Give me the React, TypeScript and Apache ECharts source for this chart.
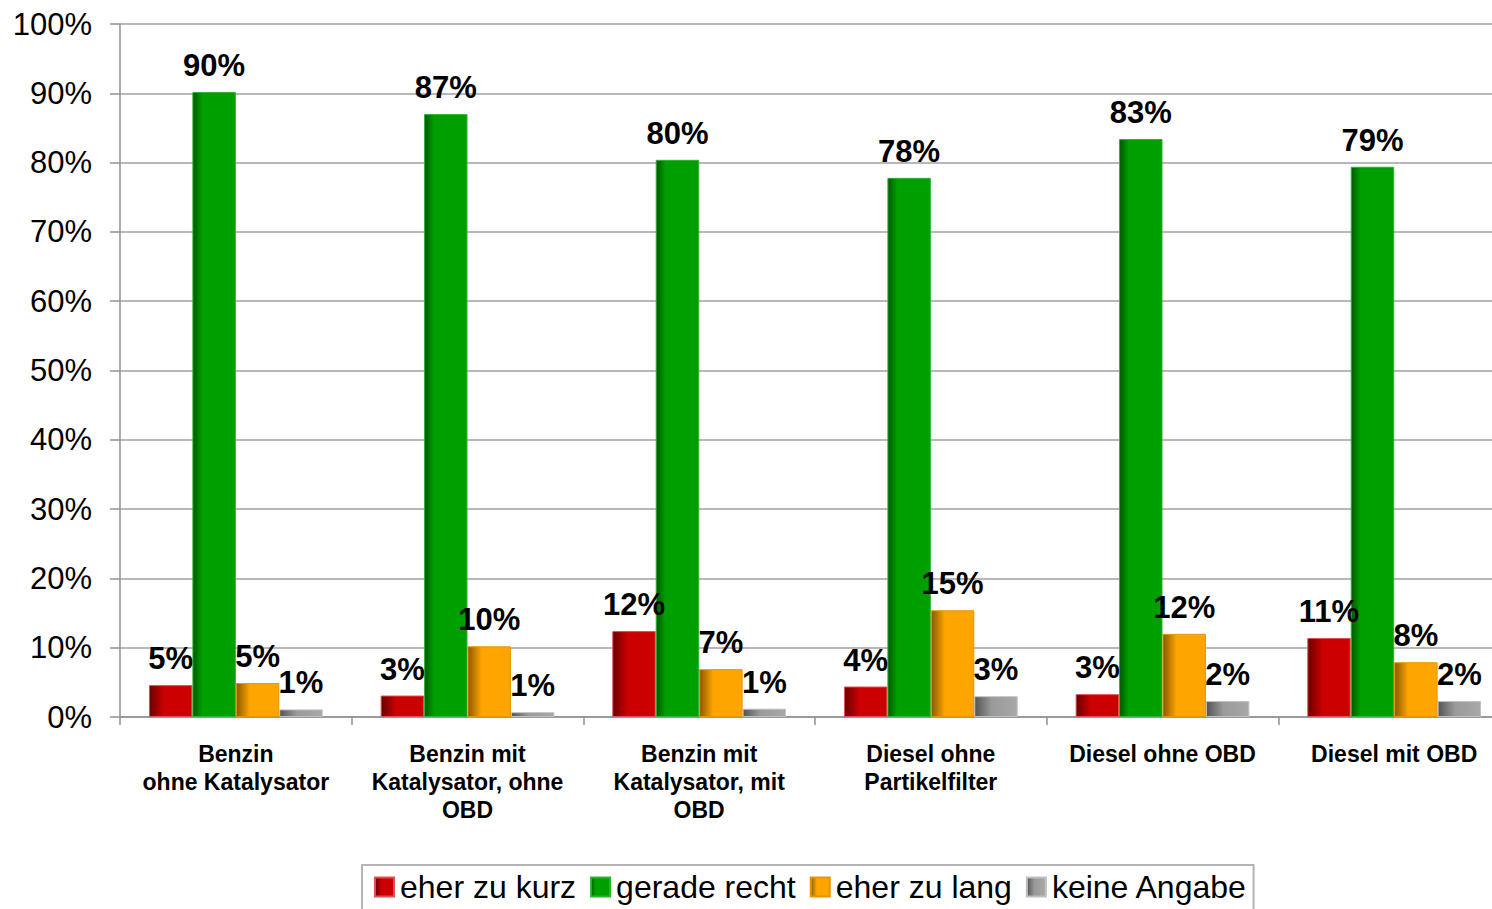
import React, { useEffect, useRef } from "react";
import * as echarts from "echarts";

const categories = [
  "Benzin\nohne Katalysator",
  "Benzin mit\nKatalysator, ohne\nOBD",
  "Benzin mit\nKatalysator, mit\nOBD",
  "Diesel ohne\nPartikelfilter",
  "Diesel ohne OBD",
  "Diesel mit OBD",
];
const seriesNames = ["eher zu kurz", "gerade recht", "eher zu lang", "keine Angabe"];
const eherZuKurz = [4.6, 3.1, 12.4, 4.4, 3.3, 11.4];
const geradeRecht = [90.2, 87.0, 80.4, 77.8, 83.4, 79.4];
const eherZuLang = [4.9, 10.2, 6.9, 15.4, 12.0, 7.9];
const keineAngabe = [1.1, 0.7, 1.2, 3.0, 2.3, 2.3];
const yTicks = [0, 10, 20, 30, 40, 50, 60, 70, 80, 90, 100];

const FONT = '"Liberation Sans", Arial, Helvetica, sans-serif';

function grad(stops: [number, string][]) {
  return new echarts.graphic.LinearGradient(
    0,
    0,
    1,
    0,
    stops.map(([offset, color]) => ({ offset, color }))
  );
}

export default function App() {
  const ref = useRef<HTMLDivElement>(null);
  useEffect(() => {
    if (!ref.current) return;
    const chart = echarts.init(ref.current, undefined, { renderer: "svg" });
    const styles = [
      { color: grad([[0, "#6a0000"], [0.35, "#cc0000"], [1, "#cc0000"]]), borderColor: "#e05050" },
      { color: grad([[0, "#005800"], [0.22, "#009f00"], [1, "#009f00"]]), borderColor: "#30b030" },
      { color: grad([[0, "#8a5800"], [0.32, "#ffa500"], [1, "#ffa500"]]), borderColor: "#e89400" },
      { color: grad([[0, "#555555"], [0.4, "#9a9a9a"], [1, "#a8a8a8"]]), borderColor: "#c0c0c0" },
    ];
    const dataSets = [eherZuKurz, geradeRecht, eherZuLang, keineAngabe];
    chart.setOption({
      animation: false,
      grid: { left: 120, right: 0, top: 24, bottom: 192, containLabel: false },
      legend: {
        data: seriesNames,
        left: 362,
        top: 865,
        orient: "horizontal",
        icon: "rect",
        itemWidth: 19,
        itemHeight: 19,
        itemGap: 14,
        padding: [6, 6, 8, 12],
        borderColor: "#b4b4b4",
        borderWidth: 2,
        textStyle: { fontSize: 32, color: "#000", fontFamily: FONT, padding: [0, 0, 0, 1] },
      },
      xAxis: {
        type: "category",
        data: categories,
        boundaryGap: true,
        axisLine: { show: true, lineStyle: { color: "#909090", width: 1.5 } },
        axisTick: { show: true, length: 8, alignWithLabel: false, lineStyle: { color: "#909090", width: 1.5 } },
        axisLabel: {
          interval: 0,
          margin: 23,
          fontSize: 23,
          fontWeight: "bold",
          lineHeight: 28,
          color: "#000",
          fontFamily: FONT,
        },
      },
      yAxis: {
        type: "value",
        min: yTicks[0],
        max: yTicks[yTicks.length - 1],
        interval: 10,
        axisLine: { show: true, lineStyle: { color: "#909090", width: 1.5 } },
        axisTick: { show: true, length: 10, lineStyle: { color: "#909090", width: 1.5 } },
        splitLine: { show: true, lineStyle: { color: "#a0a0a0", width: 1.5 } },
        axisLabel: {
          margin: 28,
          fontSize: 31,
          color: "#000",
          fontFamily: FONT,
          formatter: (v: number) => `${v}%`,
        },
      },
      series: seriesNames.map((name, i) => ({
        name,
        type: "bar",
        data: dataSets[i],
        barGap: "0%",
        barCategoryGap: "25%",
        itemStyle: { color: styles[i].color, borderColor: styles[i].borderColor, borderWidth: 1 },
        label: {
          show: true,
          position: "top",
          distance: 11,
          fontSize: 31,
          fontWeight: "bold",
          color: "#000",
          fontFamily: FONT,
          formatter: (p: any) => `${Math.round(p.value)}%`,
        },
      })),
    });
    return () => chart.dispose();
  }, []);
  return (
    <div
      style={{
        position: "fixed",
        left: 0,
        top: 0,
        width: 1492,
        height: 909,
        overflow: "hidden",
        background: "#fff",
      }}
    >
      <div ref={ref} style={{ width: 1510, height: 909 }} />
    </div>
  );
}
